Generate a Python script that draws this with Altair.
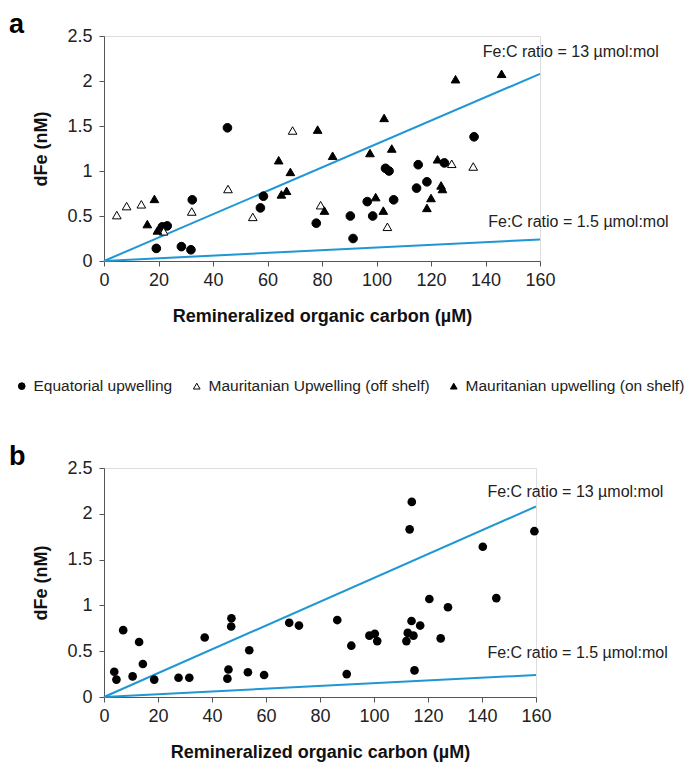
import altair as alt
import pandas as pd

FONT = "Liberation Sans"
BLUE = "#1f97d4"

groups = ["Equatorial upwelling", "Mauritanian Upwelling (off shelf)", "Mauritanian upwelling (on shelf)"]

# Panel a
eq_x = [45.3, 32.4, 23.2, 21.4, 19.2, 28.4, 31.9, 58.5, 57.4, 77.9, 135.8, 115.3, 124.9, 103.3, 104.6,
        118.5, 114.7, 96.6, 106.3, 90.4, 98.6, 91.4]
eq_y = [1.48, 0.68, 0.39, 0.38, 0.14, 0.16, 0.125, 0.72, 0.59, 0.42, 1.38, 1.07, 1.09, 1.03, 1.00,
        0.88, 0.81, 0.66, 0.68, 0.50, 0.50, 0.25]
off_x = [4.7, 8.3, 13.7, 21.9, 32.2, 45.5, 54.6, 69.2, 79.5, 127.6, 135.5, 104.0]
off_y = [0.51, 0.61, 0.63, 0.33, 0.55, 0.80, 0.49, 1.45, 0.62, 1.08, 1.05, 0.38]
on_x = [18.5, 15.9, 19.6, 64.1, 68.4, 65.1, 67.0, 78.4, 80.9, 83.9, 102.8, 97.6, 105.6, 129.0, 145.9,
        99.7, 102.5, 118.5, 120.0, 123.7, 124.2, 122.4]
on_y = [0.69, 0.41, 0.34, 1.12, 0.99, 0.74, 0.78, 1.46, 0.56, 1.17, 1.59, 1.20, 1.25, 2.02, 2.08,
        0.71, 0.56, 0.59, 0.70, 0.84, 0.80, 1.13]

# Panel b
b_x = [3.8, 4.6, 7.1, 10.6, 13.0, 14.4, 18.6, 27.6, 31.6, 37.3, 47.2, 47.1, 46.1, 45.7, 53.8, 53.3,
       59.3, 68.6, 72.2, 114.0, 113.2, 159.4, 140.3, 120.5, 145.3, 127.4, 86.4, 113.9, 117.1, 98.3,
       100.3, 101.2, 112.5, 114.6, 112.0, 124.7, 91.6, 89.9, 115.0]
b_y = [0.276, 0.19, 0.73, 0.225, 0.60, 0.36, 0.19, 0.21, 0.21, 0.65, 0.86, 0.77, 0.30, 0.20, 0.51, 0.27,
       0.24, 0.81, 0.78, 2.13, 1.83, 1.81, 1.64, 1.07, 1.08, 0.98, 0.84, 0.83, 0.78, 0.67,
       0.69, 0.61, 0.70, 0.67, 0.61, 0.64, 0.56, 0.25, 0.29]

# Fe:C reference lines (nM of dFe vs µM of C)
line_x = [0, 160]
high_y = [0, 2.08]   # 13 µmol:mol
low_y = [0, 0.24]    # 1.5 µmol:mol
line_labels = ["Fe:C ratio = 13 µmol:mol", "Fe:C ratio = 1.5 µmol:mol"]

df_a = pd.DataFrame({
    "x": eq_x + off_x + on_x,
    "y": eq_y + off_y + on_y,
    "group": [groups[0]] * len(eq_x) + [groups[1]] * len(off_x) + [groups[2]] * len(on_x),
})
df_b = pd.DataFrame({"x": b_x, "y": b_y})
df_lines = pd.DataFrame({
    "x": line_x + line_x,
    "y": high_y + low_y,
    "ratio": ["13", "13", "1.5", "1.5"],
})


def axes():
    common = dict(grid=False, tickSize=5, labelFontSize=18, titleFontSize=18, titleFontWeight="bold",
                  labelFont=FONT, titleFont=FONT, domainColor="#555", tickColor="#555",
                  labelColor="#222", titleColor="#111", labelFlush=False)
    xax = alt.Axis(values=list(range(0, 161, 20)), labelPadding=5, titlePadding=18, **common)
    yax = alt.Axis(values=[0, 0.5, 1, 1.5, 2, 2.5], format="~g", labelPadding=7, titlePadding=16, **common)
    xs = alt.X("x:Q", title="Remineralized organic carbon (µM)", scale=alt.Scale(domain=[0, 160], nice=False), axis=xax)
    ys = alt.Y("y:Q", title="dFe (nM)", scale=alt.Scale(domain=[0, 2.5], nice=False), axis=yax)
    return xs, ys


def line_layers(x_top, y_top, x_bottom, y_bottom):
    xs, ys = axes()
    lines = alt.Chart(df_lines).mark_line(color=BLUE, strokeWidth=2, clip=False).encode(
        x=xs, y=ys, detail="ratio:N")
    lab_df = pd.DataFrame({"x": [x_top, x_bottom], "y": [y_top, y_bottom], "t": line_labels})
    labels = alt.Chart(lab_df).mark_text(align="left", baseline="middle", font=FONT, fontSize=16,
                                         color="#222").encode(x="x:Q", y="y:Q", text="t:N")
    return lines, labels


leg = alt.Legend(title=None, orient="none", legendX=-90, legendY=342, direction="horizontal",
                 columns=3, labelFontSize=15.5, labelFont=FONT, symbolSize=45, labelLimit=500,
                 symbolStrokeWidth=1, columnPadding=16, labelColor="#222", labelOffset=4)

xs, ys = axes()
pts_a = alt.Chart(df_a).mark_point(filled=True, strokeWidth=1, size=75, opacity=1).encode(
    x=xs, y=ys,
    shape=alt.Shape("group:N", scale=alt.Scale(domain=groups, range=["circle", "triangle-up", "triangle-up"]),
                    legend=leg),
    fill=alt.Fill("group:N", scale=alt.Scale(domain=groups, range=["black", "white", "black"]), legend=leg),
    stroke=alt.Stroke("group:N", scale=alt.Scale(domain=groups, range=["black", "black", "black"]), legend=leg),
)
la, ta = line_layers(139.0, 2.32, 141.0, 0.43)
panel_a = alt.layer(la, pts_a, ta).properties(
    width=436, height=225,
    title=alt.TitleParams("a", anchor="start", frame="group", fontSize=27, fontWeight="bold", font=FONT,
                          dx=-95, offset=-12, color="#000"))

xs, ys = axes()
pts_b = alt.Chart(df_b).mark_circle(color="black", size=75, opacity=1).encode(x=xs, y=ys)
lb, tb = line_layers(142.0, 2.24, 142.0, 0.48)
panel_b = alt.layer(lb, pts_b, tb).properties(
    width=432, height=229,
    title=alt.TitleParams("b", anchor="start", frame="group", fontSize=27, fontWeight="bold", font=FONT,
                          dx=-95, offset=-12, color="#000"))

chart = alt.vconcat(panel_a, panel_b, spacing=46) \
    .resolve_scale(shape="independent", fill="independent", stroke="independent") \
    .resolve_legend(shape="independent", fill="independent", stroke="independent") \
    .configure_view(stroke=None) \
    .properties(padding={"left": 0, "top": 2, "right": 0, "bottom": 0}) \
    .configure(background="white")

chart.save("out.html", embed_options={"renderer": "svg", "actions": False})
